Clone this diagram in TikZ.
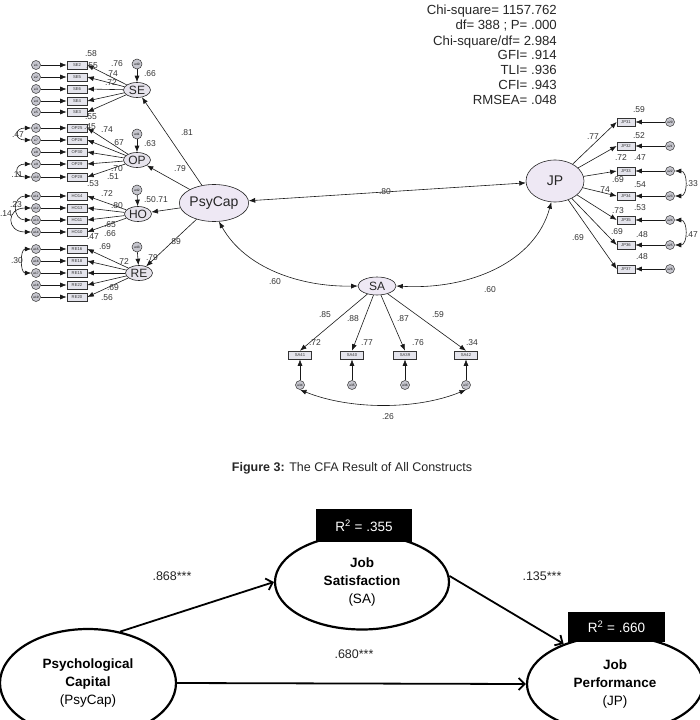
\documentclass[tikz,border=0pt]{standalone}
\usepackage{fontspec}
\setmainfont{Liberation Sans}
\usetikzlibrary{arrows.meta,shapes.geometric}
\definecolor{latfill}{HTML}{EEE8F4}
\definecolor{smallfill}{HTML}{E6E3EC}
\definecolor{boxfill}{HTML}{E4E4EC}
\definecolor{errfill}{HTML}{C6C6CE}
\begin{document}
\begin{tikzpicture}[x=1pt,y=-1pt,
  lat/.style={ellipse, draw=black!85, fill=latfill, inner sep=0pt, line width=0.6pt, text=black!85},
  slat/.style={ellipse, draw=black!85, fill=smallfill, inner sep=0pt, line width=0.6pt, minimum width=27pt, minimum height=15pt, font=\fontsize{12}{12}\selectfont, text=black!85},
  ind/.style={rectangle, draw=black!80, fill=boxfill, minimum width=20pt, minimum height=8pt, inner sep=0pt, line width=0.6pt, font=\fontsize{4.2}{5}\selectfont, text=black!80},
  err/.style={circle, draw=black!80, fill=errfill, minimum size=9pt, inner sep=0pt, line width=0.5pt, font=\fontsize{3.2}{4}\selectfont},
  lbl/.style={font=\fontsize{8.5}{9}\selectfont, text=black!80, inner sep=0pt},
  arr/.style={-{Latex[length=6.5pt,width=5pt]}, draw=black!90, line width=0.6pt},
  darr/.style={{Latex[length=6.5pt,width=5pt]}-{Latex[length=6.5pt,width=5pt]}, draw=black!90, line width=0.6pt},
  fitline/.style={font=\fontsize{13.2}{14}\selectfont, text=black!85, inner sep=0pt, anchor=base east},
  big/.style={ellipse, draw=black, line width=2.2pt, fill=white, align=center, inner sep=0pt, font=\fontsize{13.5}{18}\selectfont},
  barr/.style={-{Straight Barb[length=6pt,width=12pt]}, line width=1.8pt},
  rbox/.style={rectangle, fill=black, text=white, inner sep=0pt, font=\fontsize{13.5}{14}\selectfont},
  plab/.style={font=\fontsize{12.5}{13}\selectfont, text=black!85, inner sep=0pt}
]
\useasboundingbox (0,0) rectangle (699,720);

% ---------- fit statistics ----------
\foreach \t/\y [count=\i] in {{Chi-square= 1157.762}/14.7,{df= 388 ; P= .000}/29.7,{Chi-square/df= 2.984}/45,{GFI= .914}/59.7,{TLI= .936}/74.7,{CFI= .943}/89.7,{RMSEA= .048}/104}
  \node[fitline] (fit\i) at (557,\y) {\t};

% ---------- latent variables ----------
\node[lat, minimum width=55pt, minimum height=37pt, font=\fontsize{14}{14}\selectfont] (PsyCap) at (214,203) {PsyCap};
\node[lat, minimum width=58pt, minimum height=42pt, font=\fontsize{14}{14}\selectfont] (JP) at (555,181) {JP};
\node[lat, minimum width=38pt, minimum height=18pt, font=\fontsize{12}{12}\selectfont] (SA) at (377,286) {SA};

\node[slat] (SE) at (137,90) {SE};
\node[slat] (OP) at (137,160) {OP};
\node[slat] (HO) at (138,214) {HO};
\node[slat] (RE) at (139,273) {RE};

\node[err, minimum size=10pt] (e40) at (137,64) {e40};
\node[err, minimum size=10pt] (e41) at (137,134) {e41};
\node[err, minimum size=10pt] (e42) at (137,190) {e42};
\node[err, minimum size=10pt] (e43) at (137,247) {e43};
\draw[arr] (e40) -- (SE);
\draw[arr] (e41) -- (OP);
\draw[arr] (e42) -- (HO);
\draw[arr] (e43) -- (RE);

% ---------- indicators ----------
\foreach \n/\y [count=\i] in {SE2/65,SE5/77,SE6/89,SE4/101,SE3/112} {
  \node[ind] (\n) at (77,\y) {\n};
  \node[err] (e\n) at (36,\y) {e\i};
  \draw[arr] (e\n) -- (\n);
  \draw[arr] (SE) -- (\n.east);
}
\foreach \n/\y [count=\i from 6] in {OP25/128,OP26/140,OP30/152,OP29/164,OP28/177} {
  \node[ind] (\n) at (77,\y) {\n};
  \node[err] (e\n) at (36,\y) {e\i};
  \draw[arr] (e\n) -- (\n);
  \draw[arr] (OP) -- (\n.east);
}
\foreach \n/\y [count=\i from 11] in {HO14/196,HO13/208,HO11/220,HO10/232} {
  \node[ind] (\n) at (77,\y) {\n};
  \node[err] (e\n) at (36,\y) {e\i};
  \draw[arr] (e\n) -- (\n);
  \draw[arr] (HO) -- (\n.east);
}
\foreach \n/\y [count=\i from 15] in {RE16/249,RE18/261,RE15/273,RE22/285,RE20/297} {
  \node[ind] (\n) at (77,\y) {\n};
  \node[err] (e\n) at (36,\y) {e\i};
  \draw[arr] (e\n) -- (\n);
  \draw[arr] (RE) -- (\n.east);
}
\foreach \n/\y [count=\i from 20] in {JP31/122,JP32/146,JP33/171,JP34/196,JP35/220,JP36/245,JP37/269} {
  \node[ind, minimum width=18pt] (\n) at (626,\y) {\n};
  \node[err] (e\n) at (670,\y) {e\i};
  \draw[arr] (e\n) -- (\n);
  \draw[arr] (JP) -- (\n.west);
}
\foreach \n/\x [count=\i from 34] in {SA41/300,SA40/352,SA39/405,SA42/466} {
  \node[ind, minimum width=23pt] (\n) at (\x,355) {\n};
  \node[err] (e\n) at (\x,385) {e\i};
  \draw[arr] (e\n) -- (\n);
  \draw[arr] (SA) -- (\n.north);
}

% ---------- error covariances ----------
\draw[darr] (eOP25.west) .. controls (14,128) and (14,140) .. (eOP26.west);
\draw[darr] (eOP29.west) .. controls (14,164) and (14,177) .. (eOP28.west);
\draw[darr] (eHO14.west) .. controls (12,196) and (12,220) .. (eHO11.west);
\draw[darr] (eHO13.west) .. controls (6,208) and (6,232) .. (eHO10.west);
\draw[darr] (eRE16.west) .. controls (20,249) and (20,273) .. (eRE15.west);
\draw[darr] (eJP33.east) .. controls (688,171) and (688,196) .. (eJP34.east);
\draw[darr] (eJP35.east) .. controls (688,220) and (688,245) .. (eJP36.east);
\draw[darr] (eSA41.south) .. controls (350,410) and (417,410) .. (eSA42.south);

% ---------- structural paths ----------
\draw[arr] (PsyCap) -- (SE);
\draw[arr] (PsyCap) -- (OP);
\draw[arr] (PsyCap) -- (HO);
\draw[arr] (PsyCap) -- (RE);
\draw[darr] (PsyCap) -- (JP);
\draw[darr] (PsyCap.-75) .. controls (245,268) and (300,287) .. (SA.west);
\draw[darr] (SA.east) .. controls (470,290) and (535,262) .. (JP.-100);

% ---------- coefficient labels ----------
\foreach \x/\y/\t [count=\i] in {
  91/54/.58, 92/66/.55, 117/64/.76, 112/74/.74, 111/83/.72, 150/74/.66, 91/117/.55,
  90/127/.45, 107/130/.74, 118/143/.67, 150/144/.63, 117/169/.70, 113/177/.51, 93/184/.53,
  18/135/.47, 17/175/.11, 187/133/.81, 180/169/.79,
  107/194/.72, 117/206/.80, 150/200/.50, 162/200/.71, 110/225/.65, 110/234/.66, 93/237/.47,
  16/205/.23, 6/214/.14, 175/242/.89,
  105/247/.69, 123/262/.72, 152/258/.79, 113/288/.69, 107/298/.56, 17/261/.30,
  639/110/.59, 593/137/.77, 639/136/.52, 621/158/.72, 640/158/.47, 618/180/.69, 640/185/.54,
  604/190/.74, 618/211/.73, 640/208/.53, 617/232/.69, 642/235/.48, 578/238/.69, 642/257/.48,
  692/184/.33, 692/235/.47,
  385/192/.80, 275/282/.60, 490/290/.60,
  325/315/.85, 353/319/.88, 403/319/.87, 438/315/.59,
  315/343/.72, 367/343/.77, 418/343/.76, 472/343/.34, 388/417/.26}
  \node[lbl] (c\i) at (\x,\y) {\t};

% ---------- caption ----------
\node[font=\fontsize{12.5}{13}\selectfont, text=black!85, inner sep=0pt] (caption) at (352,468)
  {\textbf{Figure 3:} The CFA Result of All Constructs};

% ---------- structural model ----------
\node[big, minimum width=176pt, minimum height=108pt] (bPsy) at (88,683)
  {\textbf{Psychological}\\\textbf{Capital}\\(PsyCap)};
\node[big, minimum width=174pt, minimum height=95pt] (bSA) at (362,582)
  {\textbf{Job}\\\textbf{Satisfaction}\\(SA)};
\node[big, minimum width=176pt, minimum height=96pt] (bJP) at (615,684)
  {\textbf{Job}\\\textbf{Performance}\\(JP)};
\node[rbox, minimum width=96pt, minimum height=33pt] (r2sa) at (364,525.5) {R\textsuperscript{2} = .355};
\node[rbox, minimum width=97pt, minimum height=30pt] (r2jp) at (616.5,627) {R\textsuperscript{2} = .660};

\draw[barr] (bPsy.58) -- (bSA.west);
\draw[barr] (bSA.4) -- (bJP.142);
\draw[barr] (bPsy.east) -- (bJP.west);

\node[plab] (p1) at (172,576) {.868***};
\node[plab] (p2) at (542,576) {.135***};
\node[plab] (p3) at (354,654) {.680***};
\end{tikzpicture}
\end{document}
